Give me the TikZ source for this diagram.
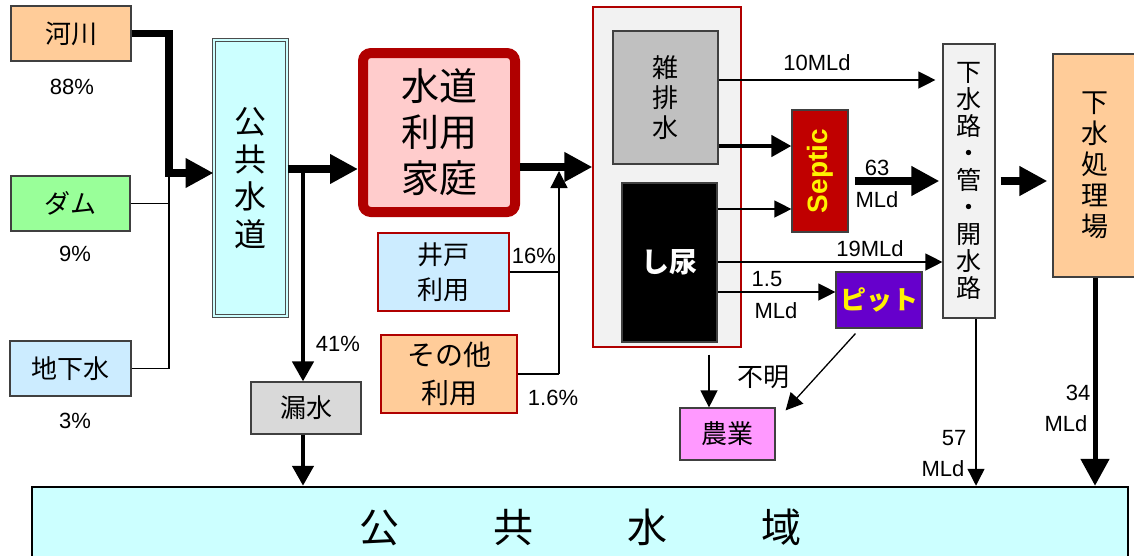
\documentclass[tikz,border=0pt]{standalone}
\usepackage{fontspec}
\setmainfont{Liberation Sans}
\newfontfamily\jp{Noto Sans CJK JP}
\usetikzlibrary{arrows.meta}

\definecolor{cOrange}{HTML}{FFCC99}
\definecolor{cGreen}{HTML}{99FF99}
\definecolor{cBlue}{HTML}{CCECFF}
\definecolor{cCyan}{HTML}{CCFFFF}
\definecolor{cPink}{HTML}{FFCCCC}
\definecolor{cDarkRed}{HTML}{B00000}
\definecolor{cLeak}{HTML}{D9D9D9}
\definecolor{cPale}{HTML}{F2F2F2}
\definecolor{cSilver}{HTML}{C0C0C0}
\definecolor{cSeptic}{HTML}{C00000}
\definecolor{cPit}{HTML}{6600CC}
\definecolor{cFarm}{HTML}{FF99FF}

\begin{document}
\begin{tikzpicture}[x=1pt, y=-1pt,
  box/.style={draw=black!75, line width=1.2pt, inner sep=0pt, align=center},
  jtxt/.style={font=\jp\fontsize{26}{30}\selectfont},
  num/.style={inner sep=0pt, font=\fontsize{22}{22}\selectfont},
  thinarr/.style={line width=1.3pt, -{Triangle[length=17pt,width=17pt]}},
  midarr/.style={line width=4.5pt, -{Triangle[length=20pt,width=21pt]}},
  bigarr/.style={line width=7.5pt, -{Triangle[length=28pt,width=28pt]}},
  wire/.style={line width=1.3pt}]
  \useasboundingbox (0,0) rectangle (1134,555);

  % 水源
  \node[box, jtxt, fill=cOrange, minimum width=120pt, minimum height=55pt] (kasen) at (71,33.5) {河川};
  \node[box, jtxt, fill=cGreen, minimum width=119pt, minimum height=55pt] (dam) at (70.5,203.5) {ダム};
  \node[box, jtxt, fill=cBlue, minimum width=121pt, minimum height=55pt] (chikasui) at (70.5,368.5) {地下水};
  \node[num] at (72,87) {88\%};
  \node[num] at (75,254) {9\%};
  \node[num] at (75,421) {3\%};

  % 上水
  \node[box, draw=black!70, line width=1pt, double=cCyan, double distance=2pt, fill=cCyan,
    minimum width=73pt, minimum height=276pt, font=\jp\fontsize{32}{37.5}\selectfont] (kokyo) at (250.5,178) {公\\共\\水\\道};
  \node[box, draw=cDarkRed, line width=10pt, rounded corners=8pt, fill=cPink,
    minimum width=152pt, minimum height=159pt, font=\jp\fontsize{38}{46}\selectfont] (katei) at (439,132.5) {水道\\利用\\家庭};
  \node[box, draw=cDarkRed, fill=cBlue, minimum width=131pt, minimum height=78pt,
    font=\jp\fontsize{26}{35}\selectfont] (ido) at (443.5,272) {井戸\\利用};
  \node[box, draw=cDarkRed, fill=cOrange, minimum width=136pt, minimum height=78pt,
    font=\jp\fontsize{28}{38}\selectfont] (sonota) at (449,374) {その他\\利用};
  \node[box, jtxt, fill=cLeak, minimum width=110pt, minimum height=52pt] (roosui) at (306,408) {漏水};
  \node[box, draw=black, line width=2.5pt, fill=cCyan, minimum width=1096pt, minimum height=80pt,
    font=\jp\fontsize{40}{40}\selectfont] (suiiki) at (580,527)
    {公\hspace{94pt}共\hspace{94pt}水\hspace{94pt}域};

  % 家庭排水
  \node[box, draw=cDarkRed, fill=cPale, minimum width=148pt, minimum height=340pt] (haisui) at (667,177) {};
  \node[box, fill=cSilver, minimum width=105pt, minimum height=133pt,
    font=\jp\fontsize{26}{30}\selectfont] (zatsu) at (665.5,97.5) {雑\\排\\水};
  \node[box, fill=black, text=white, minimum width=95pt, minimum height=159pt,
    font=\jp\bfseries\fontsize{28}{30}\selectfont] (shinyo) at (669.5,262.5) {し尿};
  \node[box, fill=cSeptic, text=yellow, minimum width=56pt, minimum height=122pt,
    font=\bfseries\fontsize{28}{28}\selectfont] (septic) at (820,171) {\rotatebox{90}{Septic}};
  \node[box, fill=cPit, text=yellow, minimum width=86pt, minimum height=56pt,
    font=\jp\bfseries\fontsize{26}{30}\selectfont] (pit) at (879,300) {ピット};
  \node[box, jtxt, fill=cFarm, minimum width=95pt, minimum height=52pt] (nogyo) at (727.5,434) {農業};
  \node[box, fill=cPale, minimum width=52pt, minimum height=274pt,
    font=\jp\fontsize{25}{27}\selectfont] (gesuiro) at (969,181)
    {下\\水\\路\\・\\管\\・\\開\\水\\路};
  \node[box, fill=cOrange, minimum width=84pt, minimum height=223pt,
    font=\jp\fontsize{27}{31}\selectfont] (shoriba) at (1095,165.5) {下\\水\\処\\理\\場};

  % 水源から公共水道へ
  \coordinate (jn) at (169,173);
  \draw[bigarr] (kasen.east) -| (jn) -- (kokyo.west |- jn);
  \draw[wire] (dam.east) -- (dam.east -| jn);
  \draw[wire] (chikasui.east) -| (jn);

  \coordinate (k1) at (303,169);
  \draw[bigarr] (kokyo.east |- k1) -- (katei.west |- k1);
  \draw[midarr] (k1) -- (roosui.north -| k1);
  \draw[midarr] (roosui.south -| k1) -- (suiiki.north -| k1);
  \node[num] at (338,344) {41\%};

  \coordinate (k2) at (559,167);
  \coordinate (k3) at (559,374);
  \draw[bigarr] (katei.east |- k2) -- (haisui.west |- k2);
  \draw[thinarr] (k3) -- ([yshift=-4pt]k2);
  \draw[wire] (ido.east) -- (ido.east -| k3);
  \draw[wire] (sonota.east) -- (sonota.east -| k3);
  \node[num] at (534,256) {16\%};
  \node[num] at (553,398) {1.6\%};

  % 排水の行き先
  \draw[thinarr, shorten >=7pt] (zatsu.east |- 0,80) -- (gesuiro.west |- 0,80);
  \node[num] at (817,63) {10MLd};
  \draw[midarr] (zatsu.east |- 0,146) -- (septic.west |- 0,146);
  \draw[thinarr] (shinyo.east |- 0,209) -- (septic.west |- 0,209);
  \draw[thinarr] (shinyo.east |- 0,262) -- (gesuiro.west |- 0,262);
  \node[num] at (870,249) {19MLd};
  \draw[thinarr] (shinyo.east |- 0,292) -- (pit.west |- 0,292);
  \node[num] at (767,279) {1.5};
  \node[num] at (776,311) {MLd};
  \draw[bigarr, shorten <=6pt, shorten >=3pt] (septic.east |- 0,181) -- (gesuiro.west |- 0,181);
  \node[num] at (877,168) {63};
  \node[num] at (877,200) {MLd};
  \draw[bigarr, shorten <=5pt, shorten >=5pt] (gesuiro.east |- 0,181) -- (shoriba.west |- 0,181);

  \draw[thinarr, shorten <=7pt] (haisui.south -| 709,0) -- (nogyo.north -| 709,0);
  \draw[thinarr] ([xshift=20pt,yshift=-5pt]pit.south west) -- ([xshift=10pt,yshift=-3pt]nogyo.north east);
  \node[inner sep=0pt, jtxt] at (763,377) {不明};

  \draw[thinarr] (gesuiro.south -| 976,0) -- (suiiki.north -| 976,0);
  \node[num] at (954,438) {57};
  \node[num] at (943,469) {MLd};
  \draw[line width=5pt, -{Triangle[length=27pt,width=28pt]}] (shoriba.south) -- (suiiki.north -| shoriba.south);
  \node[num] at (1078,393) {34};
  \node[num] at (1066,424) {MLd};
\end{tikzpicture}
\end{document}
